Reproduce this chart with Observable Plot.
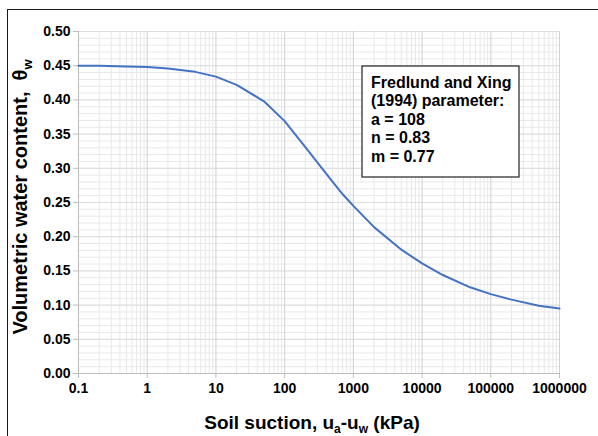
<!DOCTYPE html>
<html><head><meta charset="utf-8">
<script src="https://cdn.jsdelivr.net/npm/d3@7"></script>
<script src="https://cdn.jsdelivr.net/npm/@observablehq/plot@0.6"></script>
<style>
body{margin:0;background:#fff;overflow:hidden;font-family:Arial,"Liberation Sans",sans-serif}
#wrap{position:relative;width:598px;height:436px;overflow:hidden}
#wrap svg{position:absolute;left:0;top:0}
#frame{position:absolute;left:7px;top:9px;width:700px;height:700px;border:1.5px solid #1a1a1a;box-sizing:border-box;pointer-events:none}
</style></head><body>
<div id="wrap"></div>
<script>
// Values
const suction = [0.1, 0.2, 0.5, 1, 2, 5, 10, 20, 50, 100, 200, 500, 700, 1000, 2000, 5000, 10000, 20000, 50000, 100000, 200000, 500000, 1000000];
const theta   = [0.450, 0.450, 0.449, 0.448, 0.446, 0.441, 0.434, 0.422, 0.398, 0.369, 0.331, 0.280, 0.262, 0.245, 0.214, 0.181, 0.161, 0.144, 0.126, 0.116, 0.108, 0.099, 0.095];
const xTicks = [0.1, 1, 10, 100, 1000, 10000, 100000, 1000000];
const yTicks = [0, 0.05, 0.10, 0.15, 0.20, 0.25, 0.30, 0.35, 0.40, 0.45, 0.50];
const noteLines = ["Fredlund and Xing", "(1994) parameter:", "a = 108", "n = 0.83", "m = 0.77"];

const data = suction.map((s, i) => ({s, t: theta[i]}));
const minorX = [];
for (const d of xTicks.slice(0, -1)) for (let k = 2; k <= 9; k++) minorX.push(+(d * k).toPrecision(3));
const minorY = d3.range(0, 51).map(i => i / 100);

const W = 598, H = 436;
const svg = Plot.plot({
  width: W, height: H,
  marginLeft: 78, marginRight: 39, marginTop: 31, marginBottom: 63,
  style: {fontFamily: "Arial, 'Liberation Sans', sans-serif", fontSize: "14px", fontWeight: "bold", color: "#000", background: "#fff"},
  x: {type: "log", domain: [0.1, 1000000]},
  y: {domain: [0, 0.5]},
  marks: [
    Plot.gridX(minorX, {stroke: "#e8e8e8", strokeOpacity: 1}),
    Plot.gridY(minorY, {stroke: "#e8e8e8", strokeOpacity: 1}),
    Plot.gridY(yTicks, {stroke: "#dedede", strokeOpacity: 1}),
    Plot.gridX(xTicks, {stroke: "#d0d0d0", strokeOpacity: 1}),
    Plot.axisX(xTicks, {tickFormat: d => String(d), tickSize: 5, tickPadding: 5, stroke: "#bdbdbd", fill: "#000", label: null, fontSize: 14, fontWeight: "bold"}),
    Plot.axisY(yTicks, {tickFormat: d3.format(".2f"), tickSize: 5, tickPadding: 3, stroke: "#bdbdbd", fill: "#000", label: null, fontSize: 14, fontWeight: "bold"}),
    Plot.ruleX([0.1], {stroke: "#bdbdbd"}),
    Plot.ruleY([0], {stroke: "#bdbdbd"}),
    Plot.line(data, {x: "s", y: "t", stroke: "#4472C4", strokeWidth: 2})
  ]
});
document.getElementById("wrap").appendChild(svg);

const s = d3.select(svg);
// Y title
const yt = s.append("text")
  .attr("transform", "translate(27,197) rotate(-90)")
  .attr("text-anchor", "middle")
  .style("font-size", "20px").style("font-weight", "bold").attr("fill", "#000");
yt.append("tspan").text("Volumetric water content,  θ");
yt.append("tspan").attr("dy", 5).style("font-size", "13px").text("w");

// X title
const xt = s.append("text")
  .attr("x", 312).attr("y", 429)
  .attr("text-anchor", "middle")
  .style("font-size", "19px").style("font-weight", "bold").attr("fill", "#000");
xt.append("tspan").text("Soil suction, u");
xt.append("tspan").attr("dy", 4).style("font-size", "12px").text("a");
xt.append("tspan").attr("dy", -4).text("-u");
xt.append("tspan").attr("dy", 4).style("font-size", "12px").text("w");
xt.append("tspan").attr("dy", -4).text(" (kPa)");

// Note box
const g = s.append("g").attr("text-anchor", "start");
g.append("rect").attr("x", 362).attr("y", 66).attr("width", 157).attr("height", 111)
  .attr("fill", "#fff").attr("stroke", "#222").attr("stroke-width", 1.2);
noteLines.forEach((t, i) => {
  g.append("text").attr("x", 371).attr("y", 88 + i * 18.4).attr("text-anchor", "start")
    .style("font-size", "16px").style("font-weight", "bold").attr("fill", "#000").text(t);
});

const f = document.createElement("div");
f.id = "frame";
document.getElementById("wrap").appendChild(f);
</script>
</body></html>
